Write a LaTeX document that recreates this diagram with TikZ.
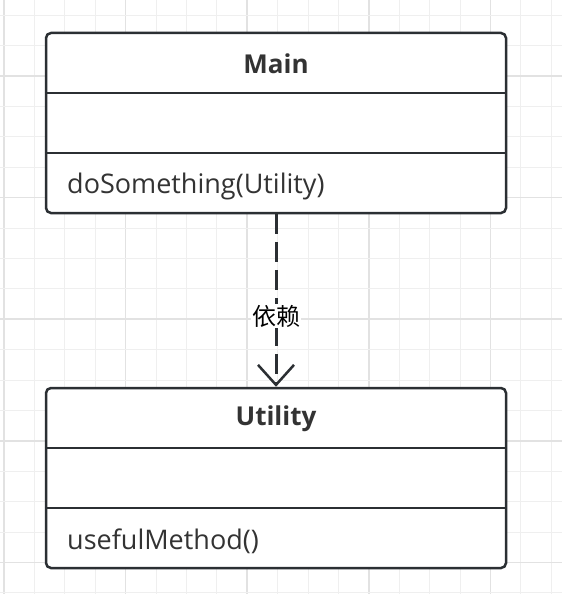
\documentclass[tikz,border=0pt]{standalone}
\usepackage{fontspec}
\setmainfont{Open Sans}
\newfontfamily\cjk{Noto Sans CJK SC}
\usepackage{tikz}
\usetikzlibrary{arrows.meta}
\definecolor{linegray}{HTML}{2B2F33}
\definecolor{textgray}{HTML}{333333}
\definecolor{gridminor}{HTML}{EFEFEF}
\definecolor{gridmajor}{HTML}{E2E2E2}

\tikzset{
  classbox/.style={draw=linegray, line width=2.5pt, rounded corners=5pt, fill=white,
    minimum width=460pt, minimum height=180pt, inner sep=0pt},
  classname/.style={text=textgray, font=\fontsize{26}{30}\selectfont\bfseries},
  member/.style={anchor=west, text=textgray, font=\fontsize{27}{31}\selectfont, inner sep=0pt},
  divider/.style={draw=linegray, line width=2.5pt},
  depends/.style={draw=linegray, line width=3pt, dash pattern=on 20pt off 8pt,
    -{Straight Barb[length=20pt, width=36pt, line width=2.5pt]}},
  deplabel/.style={fill=white, text=black, inner sep=1pt, font=\cjk\fontsize{24}{28}\selectfont}
}

\begin{document}
\begin{tikzpicture}[x=1pt, y=-1pt]

\useasboundingbox (0,0) rectangle (562,594);
\fill[white] (0,0) rectangle (562,594);

\foreach \k in {0,...,18} {
  \pgfmathsetmacro\gx{4+30.4*\k}
  \pgfmathtruncatemacro\gm{mod(\k,4)}
  \ifnum\gm=0
    \draw[gridmajor, line width=1.5pt] (\gx,0) -- (\gx,594);
  \else
    \draw[gridminor, line width=1pt] (\gx,0) -- (\gx,594);
  \fi
}
\foreach \k in {0,...,19} {
  \pgfmathsetmacro\gy{15.2+30.4*\k}
  \pgfmathtruncatemacro\gm{mod(\k+2,4)}
  \ifnum\gm=0
    \draw[gridmajor, line width=1.5pt] (0,\gy) -- (562,\gy);
  \else
    \draw[gridminor, line width=1pt] (0,\gy) -- (562,\gy);
  \fi
}

\node (main) at (276,123) [classbox]{};
\node (mainname) at (276,64) [classname]{Main};
\draw[divider] ([yshift=-61pt]main.north west) -- ([yshift=-61pt]main.north east);
\draw[divider] ([yshift=-121pt]main.north west) -- ([yshift=-121pt]main.north east);
\node (mainop) at (67,186) [member]{doSomething(Utility)};

\node (utility) at (276,478) [classbox]{};
\node (utilityname) at (276,419) [classname]{Utility};
\draw[divider] ([yshift=-61pt]utility.north west) -- ([yshift=-61pt]utility.north east);
\draw[divider] ([yshift=-121pt]utility.north west) -- ([yshift=-121pt]utility.north east);
\node (utilityop) at (67,541) [member]{usefulMethod()};

\draw[depends] (main.south) -- node[deplabel, pos=0.59]{依赖} (utility.north);

\end{tikzpicture}
\end{document}
